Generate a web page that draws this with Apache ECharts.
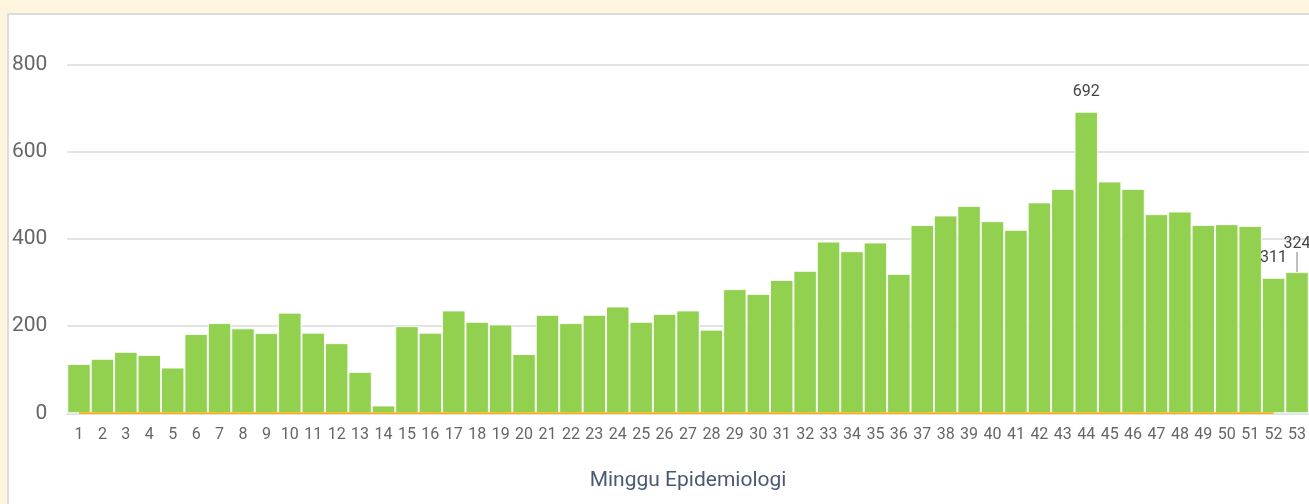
<!DOCTYPE html>
<html>
<head>
<meta charset="utf-8">
<script src="https://cdn.jsdelivr.net/npm/echarts@6/dist/echarts.min.js"></script>
<style>
  html, body { margin: 0; padding: 0; width: 1309px; height: 504px; overflow: hidden; background: #fef5df; }
  #panel { position: absolute; left: 7px; top: 13px; width: 1320px; height: 520px; background: #fff; border: 2px solid #dcdcdc; box-sizing: border-box; }
  #chart { position: absolute; left: 0; top: 0; width: 1309px; height: 504px; }
</style>
</head>
<body>
<div id="panel"></div>
<div id="chart"></div>
<script>
const weeks = ['1','2','3','4','5','6','7','8','9','10','11','12','13','14','15','16','17','18','19','20','21','22','23','24','25','26','27','28','29','30','31','32','33','34','35','36','37','38','39','40','41','42','43','44','45','46','47','48','49','50','51','52','53'];
const cases = [113,125,141,134,105,182,207,195,184,231,185,161,95,18,200,185,236,210,204,136,226,207,226,245,210,228,236,192,285,274,306,327,394,372,392,320,432,454,476,441,421,484,515,692,532,515,457,463,432,434,430,311,324];
const deaths = [0,0,0,0,0,0,0,0,0,0,0,0,0,0,0,0,0,0,0,0,0,0,0,0,0,0,0,0,0,0,0,0,0,0,0,0,0,0,0,0,0,0,0,0,0,0,0,0,0,0,0,0];
const labelledWeeks = ['44','52','53'];
const shiftedWeek = '53';
const yTicks = [0, 200, 400, 600, 800];

const chart = echarts.init(document.getElementById('chart'), null, { renderer: 'canvas' });
const barData = cases.map((v, i) => {
  if (!labelledWeeks.includes(weeks[i])) return v;
  const item = { value: v, label: { show: true } };
  item.labelLine = { show: weeks[i] === shiftedWeek };
  return item;
});

chart.setOption({
  backgroundColor: 'transparent',
  animation: false,
  textStyle: { fontFamily: 'Roboto' },
  grid: { left: 67.3, right: -1.7, top: 64.7, bottom: 90.7, containLabel: false },
  xAxis: {
    type: 'category',
    data: weeks,
    name: 'Minggu Epidemiologi',
    nameLocation: 'middle',
    nameGap: 57,
    nameTextStyle: { color: '#4a5a72', fontSize: 21, fontFamily: 'Roboto' },
    axisLine: { show: true, lineStyle: { color: '#dde3ea', width: 2 } },
    axisTick: { show: false },
    axisLabel: { color: '#666', fontSize: 16, margin: 14, interval: 0, fontFamily: 'Roboto' }
  },
  yAxis: {
    type: 'value',
    min: yTicks[0],
    max: yTicks[yTicks.length - 1],
    interval: yTicks[1] - yTicks[0],
    axisLine: { show: false },
    axisTick: { show: false },
    axisLabel: { color: '#666', fontSize: 21, margin: 20, fontFamily: 'Roboto' },
    splitLine: { lineStyle: { color: '#dadada', width: 1.5 } }
  },
  series: [
    {
      type: 'bar',
      data: barData,
      barCategoryGap: '0%',
      itemStyle: { color: '#92d050', borderColor: 'rgba(255,255,255,0.85)', borderWidth: 1 },
      label: { show: false, position: 'top', distance: 12, color: '#444', fontSize: 16, fontFamily: 'Roboto' },
      labelLine: { show: false, lineStyle: { color: '#aaa', width: 1.5 } },
      labelLayout: function (p) {
        if (weeks[p.dataIndex] === shiftedWeek) { return { dy: -8 }; }
        return {};
      },
      z: 2
    },
    {
      type: 'line',
      data: deaths,
      symbol: 'none',
      lineStyle: { color: '#f4b414', width: 2 },
      z: 3
    }
  ]
});
</script>
</body>
</html>
